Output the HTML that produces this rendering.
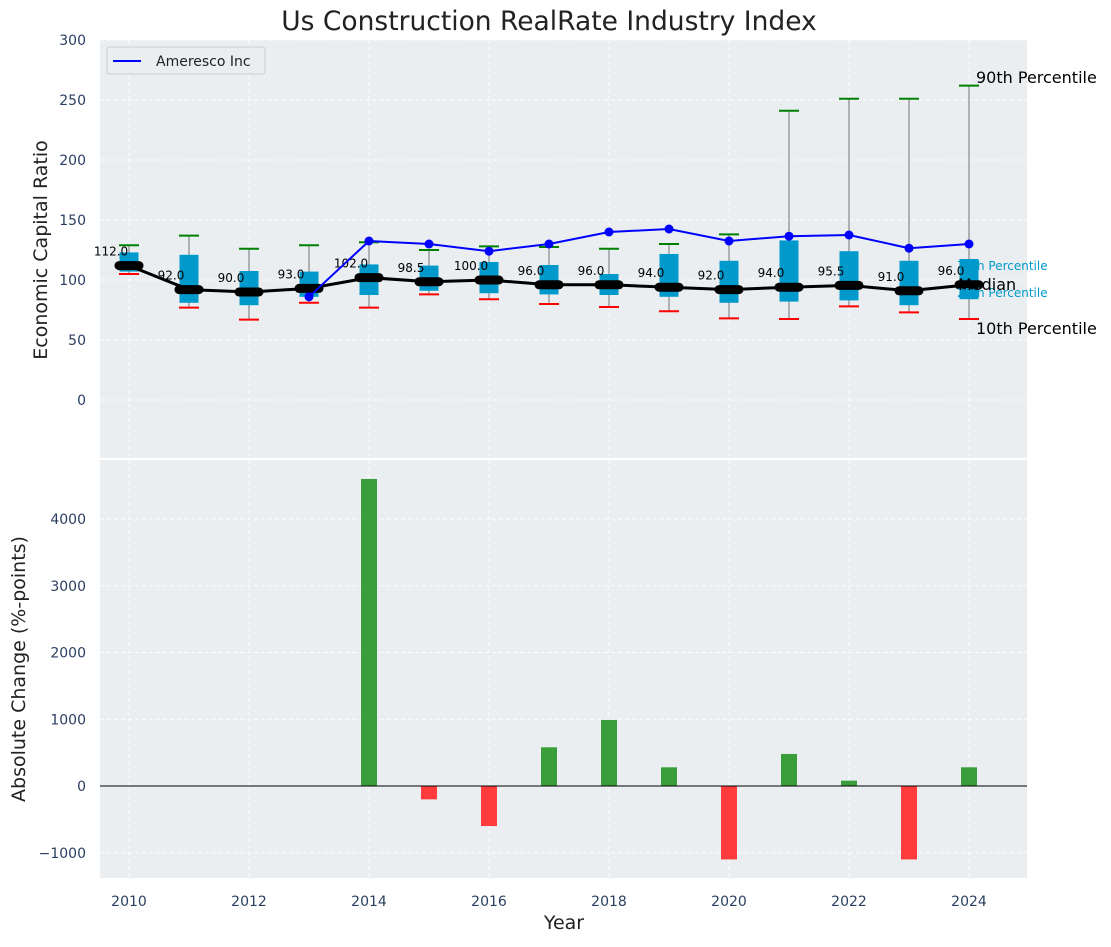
<!DOCTYPE html>
<html><head><meta charset="utf-8"><style>
body{margin:0;background:#fff;font-family:"Liberation Sans","DejaVu Sans",sans-serif}
svg text{font-family:"DejaVu Sans","Liberation Sans",sans-serif}
</style></head><body>
<svg id="c" width="1111" height="942" xmlns="http://www.w3.org/2000/svg"></svg>
<script>
const years=[2010,2011,2012,2013,2014,2015,2016,2017,2018,2019,2020,2021,2022,2023,2024];
const medians=[112,92,90,93,102,98.5,100,96,96,94,92,94,95.5,91,96];
const p75=[123,121,107.5,107,113,112,115,112.5,105,121.7,116,133,124,116,117.5];
const p25=[107,81,79,86,87.5,91,89,88,87.5,86,81,82,83,79,84];
const p90=[129,137,126,129,131.5,125,128,127.5,126,130,138,241,251,251,262];
const p10=[105,77,67,81,77,88,84,80,77.5,74,68,67.5,78,73,67.5];
const companyYears=[2013,2014,2015,2016,2017,2018,2019,2020,2021,2022,2023,2024];
const companyVals=[86,132.5,130,124,130,140,142.5,132.5,136.5,137.5,126.5,130];
const changeYears=[2014,2015,2016,2017,2018,2019,2020,2021,2022,2023,2024];
const changeVals=[4600,-200,-600,580,990,280,-1100,480,80,-1100,280];
const topTicks=[0,50,100,150,200,250,300];
const botTicks=[-1000,0,1000,2000,3000,4000];
const xTicks=[2010,2012,2014,2016,2018,2020,2022,2024];

const NS="http://www.w3.org/2000/svg",svg=document.getElementById('c');
function el(t,a,p){const e=document.createElementNS(NS,t);for(const k in a)e.setAttribute(k,a[k]);(p||svg).appendChild(e);return e;}
const X=v=>129+(v-2010)*60;
const YT=v=>400-v*1.2;
const YB=v=>786-v*0.06675;
const L=100,R=1027;
let bg=el('rect',{x:L,y:40,width:R-L,height:418,fill:'#eaeef0'});

let bg2=el('rect',{x:L,y:460,width:R-L,height:418,fill:'#eaeef0'});

const g=el('g',{stroke:'#fff','stroke-dasharray':'4,3','stroke-width':1,opacity:0.9});

topTicks.forEach(t=>el('line',{x1:L,x2:R,y1:YT(t),y2:YT(t)},g));
botTicks.forEach(t=>el('line',{x1:L,x2:R,y1:YB(t),y2:YB(t)},g));
xTicks.forEach(t=>{el('line',{x1:X(t),x2:X(t),y1:40,y2:458},g);el('line',{x1:X(t),x2:X(t),y1:460,y2:878},g);});
const tl=el('g',{fill:'#2a3f5f','font-size':14,'text-anchor':'end'});

topTicks.forEach(t=>{const e=el('text',{x:86,y:YT(t)+5},tl);e.textContent=t;});
botTicks.forEach(t=>{const e=el('text',{x:86,y:YB(t)+5},tl);e.textContent=t<0?'\u2212'+(-t):t;});
const xl=el('g',{fill:'#2a3f5f','font-size':14,'text-anchor':'middle'});

xTicks.forEach(t=>{const e=el('text',{x:X(t),y:906},xl);e.textContent=t;});
years.forEach((y,i)=>{
 const gg=el('g',{});
 
 const x=X(y);
 el('line',{x1:x,x2:x,y1:YT(p90[i]),y2:YT(p10[i]),stroke:'#888','stroke-width':1.2},gg);
 el('rect',{x:x-9.5,y:YT(p75[i]),width:19,height:YT(p25[i])-YT(p75[i]),fill:'#0099cc'},gg);
 el('line',{x1:x-10,x2:x+10,y1:YT(p90[i]),y2:YT(p90[i]),stroke:'green','stroke-width':2},gg);
 el('line',{x1:x-10,x2:x+10,y1:YT(p10[i]),y2:YT(p10[i]),stroke:'red','stroke-width':2},gg);
});
const ml=el('polyline',{points:years.map((y,i)=>X(y)+','+YT(medians[i])).join(' '),fill:'none',stroke:'#000','stroke-width':3});

years.forEach((y,i)=>{
 const m=el('line',{x1:X(y)-10,x2:X(y)+10,y1:YT(medians[i]),y2:YT(medians[i]),stroke:'#000','stroke-width':9,'stroke-linecap':'round'});
 
 const t=el('text',{x:X(y)-18,y:YT(medians[i])-10,'font-size':12,'text-anchor':'middle',fill:'#000'});
 
 t.textContent=medians[i].toFixed(1);
});
const cl=el('polyline',{points:companyYears.map((y,i)=>X(y)+','+YT(companyVals[i])).join(' '),fill:'none',stroke:'blue','stroke-width':2});

companyYears.forEach((y,i)=>{const c=el('circle',{cx:X(y),cy:YT(companyVals[i]),r:4.5,fill:'blue'});
 });
function txt(x,y,s,sz,fill,name){const t=el('text',{x:x,y:y,'font-size':sz,fill:fill});t.textContent=s;
 return t;}
txt(976,83,'90th Percentile',16,'#000','p90-annotation');
txt(976,334,'10th Percentile',16,'#000','p10-annotation');
txt(957,270,'75th Percentile',12,'#0099cc','p75-annotation');
txt(957,297,'25th Percentile',12,'#0099cc','p25-annotation');
txt(958,290,'Median',16,'#000','median-annotation');
changeYears.forEach((y,i)=>{const v=changeVals[i];
 const b=el('rect',{x:X(y)-8,y:Math.min(YB(v),YB(0)),width:16,height:Math.abs(YB(v)-YB(0)),fill:v>=0?'#3a9e3a':'#ff3b3b'});
 });
const zl=el('line',{x1:L,x2:R,y1:YB(0),y2:YB(0),stroke:'#000','stroke-width':1});

txt(549,30,'Us Construction RealRate Industry Index',26.5,'#222','chart-title').setAttribute('text-anchor','middle');
let yt=txt(0,0,'Economic Capital Ratio',19,'#222','top-y-axis-title');yt.setAttribute('text-anchor','middle');yt.setAttribute('transform','translate(47,250) rotate(-90)');
let yb=txt(0,0,'Absolute Change (%-points)',19,'#222','bottom-y-axis-title');yb.setAttribute('text-anchor','middle');yb.setAttribute('transform','translate(25,669) rotate(-90)');
txt(564,929,'Year',19,'#222','x-axis-title').setAttribute('text-anchor','middle');
const lg=el('g',{});
el('rect',{x:107,y:47,width:158,height:27,fill:'#eaeef0',stroke:'#ccc',rx:3},lg);
el('line',{x1:113,x2:141,y1:61,y2:61,stroke:'blue','stroke-width':2},lg);
const lt=el('text',{x:156,y:66,'font-size':14,fill:'#222'},lg);lt.textContent='Ameresco Inc';
</script>
</body></html>
